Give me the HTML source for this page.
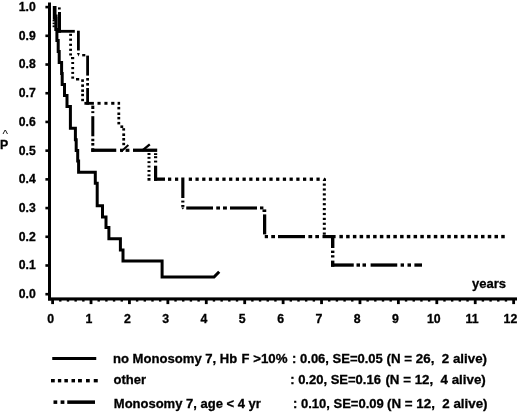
<!DOCTYPE html>
<html lang="en">
<head>
<meta charset="utf-8">
<title>Kaplan-Meier survival curves</title>
<style>
html,body{margin:0;padding:0;background:#fff;}
body{width:520px;height:413px;overflow:hidden;}
svg{display:block;}
svg text{font-family:"Liberation Sans",Arial,Helvetica,sans-serif;fill:#000;stroke:#000;stroke-width:0.3px;}
</style>
</head>
<body>
<svg width="520" height="413" viewBox="0 0 520 413" shape-rendering="auto">
<rect x="0" y="0" width="520" height="413" fill="#fff"/>
<g fill="#000" stroke="none">
<rect x="48.00" y="2.50" width="3.00" height="298.00"/>
<rect x="48.00" y="297.40" width="469.00" height="3.10"/>
<rect x="45.40" y="5.80" width="3.10" height="2.60"/>
<rect x="45.40" y="34.51" width="3.10" height="2.60"/>
<rect x="45.40" y="63.22" width="3.10" height="2.60"/>
<rect x="45.40" y="91.93" width="3.10" height="2.60"/>
<rect x="45.40" y="120.64" width="3.10" height="2.60"/>
<rect x="45.40" y="149.35" width="3.10" height="2.60"/>
<rect x="45.40" y="178.06" width="3.10" height="2.60"/>
<rect x="45.40" y="206.77" width="3.10" height="2.60"/>
<rect x="45.40" y="235.48" width="3.10" height="2.60"/>
<rect x="45.40" y="264.19" width="3.10" height="2.60"/>
<rect x="45.40" y="292.90" width="3.10" height="2.60"/>
<rect x="51.20" y="300.00" width="2.80" height="4.10"/>
<rect x="89.62" y="300.00" width="2.80" height="4.10"/>
<rect x="128.04" y="300.00" width="2.80" height="4.10"/>
<rect x="166.46" y="300.00" width="2.80" height="4.10"/>
<rect x="204.88" y="300.00" width="2.80" height="4.10"/>
<rect x="243.30" y="300.00" width="2.80" height="4.10"/>
<rect x="281.72" y="300.00" width="2.80" height="4.10"/>
<rect x="320.14" y="300.00" width="2.80" height="4.10"/>
<rect x="358.56" y="300.00" width="2.80" height="4.10"/>
<rect x="396.98" y="300.00" width="2.80" height="4.10"/>
<rect x="435.40" y="300.00" width="2.80" height="4.10"/>
<rect x="473.82" y="300.00" width="2.80" height="4.10"/>
<rect x="512.24" y="300.00" width="2.80" height="4.10"/>
<rect x="59.08" y="300.00" width="2.40" height="1.60"/>
<rect x="66.77" y="300.00" width="2.40" height="1.60"/>
<rect x="74.45" y="300.00" width="2.40" height="1.60"/>
<rect x="82.14" y="300.00" width="2.40" height="1.60"/>
<rect x="97.50" y="300.00" width="2.40" height="1.60"/>
<rect x="105.19" y="300.00" width="2.40" height="1.60"/>
<rect x="112.87" y="300.00" width="2.40" height="1.60"/>
<rect x="120.56" y="300.00" width="2.40" height="1.60"/>
<rect x="135.92" y="300.00" width="2.40" height="1.60"/>
<rect x="143.61" y="300.00" width="2.40" height="1.60"/>
<rect x="151.29" y="300.00" width="2.40" height="1.60"/>
<rect x="158.98" y="300.00" width="2.40" height="1.60"/>
<rect x="174.34" y="300.00" width="2.40" height="1.60"/>
<rect x="182.03" y="300.00" width="2.40" height="1.60"/>
<rect x="189.71" y="300.00" width="2.40" height="1.60"/>
<rect x="197.40" y="300.00" width="2.40" height="1.60"/>
<rect x="212.76" y="300.00" width="2.40" height="1.60"/>
<rect x="220.45" y="300.00" width="2.40" height="1.60"/>
<rect x="228.13" y="300.00" width="2.40" height="1.60"/>
<rect x="235.82" y="300.00" width="2.40" height="1.60"/>
<rect x="251.18" y="300.00" width="2.40" height="1.60"/>
<rect x="258.87" y="300.00" width="2.40" height="1.60"/>
<rect x="266.55" y="300.00" width="2.40" height="1.60"/>
<rect x="274.24" y="300.00" width="2.40" height="1.60"/>
<rect x="289.60" y="300.00" width="2.40" height="1.60"/>
<rect x="297.29" y="300.00" width="2.40" height="1.60"/>
<rect x="304.97" y="300.00" width="2.40" height="1.60"/>
<rect x="312.66" y="300.00" width="2.40" height="1.60"/>
<rect x="328.02" y="300.00" width="2.40" height="1.60"/>
<rect x="335.71" y="300.00" width="2.40" height="1.60"/>
<rect x="343.39" y="300.00" width="2.40" height="1.60"/>
<rect x="351.08" y="300.00" width="2.40" height="1.60"/>
<rect x="366.44" y="300.00" width="2.40" height="1.60"/>
<rect x="374.13" y="300.00" width="2.40" height="1.60"/>
<rect x="381.81" y="300.00" width="2.40" height="1.60"/>
<rect x="389.50" y="300.00" width="2.40" height="1.60"/>
<rect x="404.86" y="300.00" width="2.40" height="1.60"/>
<rect x="412.55" y="300.00" width="2.40" height="1.60"/>
<rect x="420.23" y="300.00" width="2.40" height="1.60"/>
<rect x="427.92" y="300.00" width="2.40" height="1.60"/>
<rect x="443.28" y="300.00" width="2.40" height="1.60"/>
<rect x="450.97" y="300.00" width="2.40" height="1.60"/>
<rect x="458.65" y="300.00" width="2.40" height="1.60"/>
<rect x="466.34" y="300.00" width="2.40" height="1.60"/>
<rect x="481.70" y="300.00" width="2.40" height="1.60"/>
<rect x="489.39" y="300.00" width="2.40" height="1.60"/>
<rect x="497.07" y="300.00" width="2.40" height="1.60"/>
<rect x="504.76" y="300.00" width="2.40" height="1.60"/>
<rect x="52.80" y="6.00" width="2.20" height="13.50"/>
<rect x="55.50" y="14.50" width="2.05" height="16.00"/>
<path d="M55.00,6.00 L55.00,18.50 L55.80,18.50 L55.80,29.50 L56.90,29.50 L56.90,40.50 L58.20,40.50 L58.20,51.60 L59.20,51.60 L59.20,62.60 L61.60,62.60 L61.60,73.60 L62.20,73.60 L62.20,84.60 L64.50,84.60 L64.50,95.60 L67.00,95.60 L67.00,106.40 L70.40,106.40 L70.40,128.20 L75.40,128.20 L75.40,139.70 L76.20,139.70 L76.20,150.40 L77.70,150.40 L77.70,161.00 L78.60,161.00 L78.60,172.30 L95.30,172.30 L95.30,183.30 L97.20,183.30 L97.20,205.70 L102.50,205.70 L102.50,216.90 L106.00,216.90 L106.00,227.60 L108.90,227.60 L108.90,238.80 L120.40,238.80 L120.40,250.00 L123.00,250.00 L123.00,261.00 L162.10,261.00 L162.10,277.10 L214.00,277.10 L219.20,271.70" fill="none" stroke="#000" stroke-width="3" stroke-linejoin="miter" stroke-linecap="butt"/>
<rect x="52.60" y="19.80" width="2.20" height="1.60"/>
<rect x="52.60" y="22.60" width="2.20" height="1.60"/>
<rect x="52.60" y="25.40" width="2.20" height="1.80"/>
<rect x="69.20" y="33.80" width="2.80" height="2.10"/>
<rect x="69.20" y="38.60" width="2.80" height="2.20"/>
<rect x="69.20" y="43.70" width="2.80" height="2.20"/>
<rect x="69.20" y="48.70" width="2.80" height="2.20"/>
<rect x="69.20" y="53.40" width="2.80" height="2.10"/>
<rect x="71.00" y="57.00" width="3.20" height="2.20"/>
<rect x="71.30" y="62.00" width="2.80" height="2.00"/>
<rect x="71.30" y="67.00" width="2.80" height="2.20"/>
<rect x="71.30" y="71.90" width="2.80" height="2.00"/>
<rect x="71.30" y="76.50" width="2.80" height="2.20"/>
<rect x="76.00" y="78.00" width="3.20" height="2.50"/>
<rect x="81.20" y="79.30" width="2.70" height="2.60"/>
<rect x="81.20" y="84.40" width="2.80" height="2.50"/>
<rect x="81.20" y="89.40" width="2.80" height="2.50"/>
<rect x="81.20" y="93.80" width="2.80" height="2.40"/>
<rect x="81.20" y="98.80" width="2.80" height="2.40"/>
<rect x="97.50" y="101.85" width="3.10" height="2.90"/>
<rect x="104.40" y="101.85" width="3.10" height="2.90"/>
<rect x="111.20" y="101.85" width="3.20" height="2.90"/>
<rect x="117.60" y="101.85" width="2.50" height="2.90"/>
<rect x="117.40" y="106.90" width="2.80" height="2.50"/>
<rect x="117.40" y="112.50" width="2.80" height="2.50"/>
<rect x="117.40" y="116.90" width="2.80" height="2.50"/>
<rect x="117.40" y="121.90" width="2.80" height="2.50"/>
<rect x="120.40" y="125.40" width="2.80" height="2.60"/>
<rect x="122.30" y="128.20" width="2.80" height="2.40"/>
<rect x="122.30" y="133.40" width="2.80" height="2.60"/>
<rect x="122.30" y="138.00" width="2.80" height="2.60"/>
<rect x="122.30" y="142.80" width="2.80" height="2.40"/>
<rect x="120.00" y="148.70" width="3.00" height="3.20"/>
<rect x="125.60" y="148.70" width="3.80" height="3.20"/>
<rect x="147.50" y="153.00" width="3.00" height="2.00"/>
<rect x="147.50" y="156.90" width="3.00" height="1.90"/>
<rect x="147.50" y="161.20" width="3.00" height="1.90"/>
<rect x="147.50" y="165.60" width="3.00" height="1.90"/>
<rect x="147.50" y="170.00" width="3.00" height="1.90"/>
<rect x="147.50" y="174.40" width="3.00" height="1.90"/>
<rect x="147.50" y="178.00" width="3.00" height="2.70"/>
<rect x="168.00" y="177.55" width="3.25" height="3.30"/>
<rect x="175.00" y="177.55" width="3.20" height="3.30"/>
<rect x="188.75" y="177.55" width="3.25" height="3.30"/>
<rect x="195.47" y="177.55" width="3.25" height="3.30"/>
<rect x="202.19" y="177.55" width="3.25" height="3.30"/>
<rect x="208.91" y="177.55" width="3.25" height="3.30"/>
<rect x="215.63" y="177.55" width="3.25" height="3.30"/>
<rect x="222.35" y="177.55" width="3.25" height="3.30"/>
<rect x="229.07" y="177.55" width="3.25" height="3.30"/>
<rect x="235.79" y="177.55" width="3.25" height="3.30"/>
<rect x="242.51" y="177.55" width="3.25" height="3.30"/>
<rect x="249.23" y="177.55" width="3.25" height="3.30"/>
<rect x="255.95" y="177.55" width="3.25" height="3.30"/>
<rect x="262.67" y="177.55" width="3.25" height="3.30"/>
<rect x="269.39" y="177.55" width="3.25" height="3.30"/>
<rect x="276.11" y="177.55" width="3.25" height="3.30"/>
<rect x="282.83" y="177.55" width="3.25" height="3.30"/>
<rect x="289.55" y="177.55" width="3.25" height="3.30"/>
<rect x="296.27" y="177.55" width="3.25" height="3.30"/>
<rect x="302.99" y="177.55" width="3.25" height="3.30"/>
<rect x="309.71" y="177.55" width="3.25" height="3.30"/>
<rect x="316.43" y="177.55" width="3.25" height="3.30"/>
<path d="M322.6,180.9 L326,180.9 L326,178.8 L324.3,177.4 Z"/>
<rect x="322.80" y="183.50" width="3.00" height="2.20"/>
<rect x="322.80" y="188.40" width="3.00" height="2.20"/>
<rect x="322.80" y="193.30" width="3.00" height="2.20"/>
<rect x="322.80" y="198.20" width="3.00" height="2.20"/>
<rect x="322.80" y="203.10" width="3.00" height="2.20"/>
<rect x="322.80" y="208.00" width="3.00" height="2.20"/>
<rect x="322.80" y="212.90" width="3.00" height="2.20"/>
<rect x="322.80" y="217.80" width="3.00" height="2.20"/>
<rect x="322.80" y="222.70" width="3.00" height="2.20"/>
<rect x="322.80" y="227.60" width="3.00" height="2.20"/>
<rect x="322.80" y="232.50" width="3.00" height="2.20"/>
<rect x="339.40" y="234.90" width="3.50" height="3.40"/>
<rect x="346.14" y="234.90" width="3.50" height="3.40"/>
<rect x="352.89" y="234.90" width="3.50" height="3.40"/>
<rect x="359.63" y="234.90" width="3.50" height="3.40"/>
<rect x="366.37" y="234.90" width="3.50" height="3.40"/>
<rect x="373.11" y="234.90" width="3.50" height="3.40"/>
<rect x="379.86" y="234.90" width="3.50" height="3.40"/>
<rect x="386.60" y="234.90" width="3.50" height="3.40"/>
<rect x="393.34" y="234.90" width="3.50" height="3.40"/>
<rect x="400.09" y="234.90" width="3.50" height="3.40"/>
<rect x="406.83" y="234.90" width="3.50" height="3.40"/>
<rect x="413.57" y="234.90" width="3.50" height="3.40"/>
<rect x="420.32" y="234.90" width="3.50" height="3.40"/>
<rect x="427.06" y="234.90" width="3.50" height="3.40"/>
<rect x="433.80" y="234.90" width="3.50" height="3.40"/>
<rect x="440.54" y="234.90" width="3.50" height="3.40"/>
<rect x="447.29" y="234.90" width="3.50" height="3.40"/>
<rect x="454.03" y="234.90" width="3.50" height="3.40"/>
<rect x="460.77" y="234.90" width="3.50" height="3.40"/>
<rect x="467.52" y="234.90" width="3.50" height="3.40"/>
<rect x="474.26" y="234.90" width="3.50" height="3.40"/>
<rect x="481.00" y="234.90" width="3.50" height="3.40"/>
<rect x="487.75" y="234.90" width="3.50" height="3.40"/>
<rect x="494.49" y="234.90" width="3.50" height="3.40"/>
<rect x="501.23" y="234.90" width="3.50" height="3.40"/>
<rect x="58.00" y="7.40" width="2.70" height="2.10"/>
<rect x="58.00" y="12.00" width="3.00" height="20.70"/>
<rect x="58.00" y="29.90" width="16.80" height="2.80"/>
<rect x="77.00" y="30.70" width="2.80" height="19.80"/>
<path d="M76.9,53 L79.8,53 L78.6,56.6 Z"/>
<rect x="82.20" y="54.00" width="3.10" height="2.40"/>
<rect x="86.20" y="55.60" width="2.80" height="20.00"/>
<rect x="86.20" y="78.00" width="2.80" height="2.60"/>
<rect x="86.20" y="83.00" width="2.80" height="2.60"/>
<rect x="86.20" y="88.00" width="2.80" height="16.70"/>
<rect x="84.40" y="101.90" width="9.50" height="2.85"/>
<rect x="91.30" y="105.60" width="3.00" height="3.40"/>
<rect x="91.30" y="111.20" width="3.00" height="1.90"/>
<rect x="91.30" y="116.20" width="3.00" height="20.10"/>
<rect x="91.30" y="138.75" width="3.00" height="2.50"/>
<rect x="91.30" y="143.00" width="3.00" height="2.60"/>
<rect x="91.30" y="148.20" width="3.00" height="3.70"/>
<rect x="91.30" y="148.60" width="24.95" height="3.30"/>
<line x1="121.20" y1="151.60" x2="128.40" y2="145.00" stroke="#000" stroke-width="2.0" stroke-linecap="butt"/>
<rect x="133.00" y="148.60" width="24.20" height="3.30"/>
<line x1="142.20" y1="150.60" x2="149.80" y2="144.40" stroke="#000" stroke-width="2.4" stroke-linecap="butt"/>
<rect x="154.00" y="153.20" width="3.20" height="1.80"/>
<rect x="154.00" y="156.20" width="3.20" height="2.00"/>
<rect x="154.00" y="160.60" width="3.20" height="1.90"/>
<rect x="154.00" y="165.70" width="3.20" height="15.10"/>
<rect x="154.00" y="177.50" width="11.00" height="3.30"/>
<rect x="181.25" y="177.50" width="3.15" height="20.50"/>
<rect x="181.25" y="200.60" width="3.15" height="1.90"/>
<rect x="181.25" y="205.00" width="3.15" height="1.90"/>
<path d="M181.2,207.6 L184.4,207.6 L182.8,209.6 Z"/>
<rect x="186.25" y="206.45" width="26.75" height="3.10"/>
<rect x="216.25" y="206.45" width="3.75" height="3.10"/>
<rect x="223.00" y="206.45" width="3.90" height="3.10"/>
<rect x="230.00" y="206.45" width="27.00" height="3.10"/>
<rect x="260.00" y="206.45" width="3.40" height="2.95"/>
<rect x="262.50" y="209.40" width="3.75" height="2.60"/>
<rect x="263.00" y="214.40" width="3.25" height="20.00"/>
<rect x="264.75" y="235.00" width="3.25" height="3.20"/>
<rect x="271.25" y="235.00" width="3.75" height="3.20"/>
<rect x="278.00" y="235.00" width="27.00" height="3.20"/>
<rect x="308.40" y="235.00" width="3.80" height="3.20"/>
<rect x="315.30" y="235.00" width="3.70" height="3.20"/>
<rect x="322.50" y="235.00" width="13.10" height="3.20"/>
<rect x="331.00" y="236.60" width="3.40" height="11.40"/>
<rect x="331.00" y="250.60" width="3.40" height="2.40"/>
<rect x="331.00" y="255.25" width="3.40" height="2.25"/>
<rect x="331.00" y="260.60" width="3.40" height="6.10"/>
<rect x="331.00" y="263.40" width="22.75" height="3.30"/>
<rect x="356.50" y="263.40" width="3.50" height="3.30"/>
<rect x="362.50" y="263.40" width="3.50" height="3.30"/>
<rect x="370.60" y="263.40" width="26.65" height="3.30"/>
<rect x="400.60" y="263.40" width="3.40" height="3.30"/>
<rect x="407.50" y="263.40" width="3.50" height="3.30"/>
<rect x="414.40" y="263.40" width="7.60" height="3.30"/>
<rect x="52.25" y="357.00" width="44.00" height="3.00"/>
<rect x="51.00" y="379.00" width="3.75" height="3.40"/>
<rect x="57.90" y="379.00" width="3.35" height="3.40"/>
<rect x="64.40" y="379.00" width="3.50" height="3.40"/>
<rect x="71.50" y="379.00" width="3.50" height="3.40"/>
<rect x="78.00" y="379.00" width="3.90" height="3.40"/>
<rect x="86.00" y="379.00" width="3.75" height="3.40"/>
<rect x="93.75" y="379.00" width="4.00" height="3.40"/>
<rect x="53.50" y="400.40" width="3.75" height="3.50"/>
<rect x="60.60" y="400.40" width="3.80" height="3.50"/>
<rect x="67.25" y="400.40" width="27.75" height="3.50"/>
</g>
<g>
<text x="18.70" y="10.90" text-anchor="start" font-size="12.3" font-weight="bold" textLength="17.0" lengthAdjust="spacingAndGlyphs" xml:space="preserve">1.0</text>
<text x="18.70" y="39.63" text-anchor="start" font-size="12.3" font-weight="bold" textLength="17.0" lengthAdjust="spacingAndGlyphs" xml:space="preserve">0.9</text>
<text x="18.70" y="68.36" text-anchor="start" font-size="12.3" font-weight="bold" textLength="17.0" lengthAdjust="spacingAndGlyphs" xml:space="preserve">0.8</text>
<text x="18.70" y="97.09" text-anchor="start" font-size="12.3" font-weight="bold" textLength="17.0" lengthAdjust="spacingAndGlyphs" xml:space="preserve">0.7</text>
<text x="18.70" y="125.82" text-anchor="start" font-size="12.3" font-weight="bold" textLength="17.0" lengthAdjust="spacingAndGlyphs" xml:space="preserve">0.6</text>
<text x="18.70" y="154.55" text-anchor="start" font-size="12.3" font-weight="bold" textLength="17.0" lengthAdjust="spacingAndGlyphs" xml:space="preserve">0.5</text>
<text x="18.70" y="183.28" text-anchor="start" font-size="12.3" font-weight="bold" textLength="17.0" lengthAdjust="spacingAndGlyphs" xml:space="preserve">0.4</text>
<text x="18.70" y="212.01" text-anchor="start" font-size="12.3" font-weight="bold" textLength="17.0" lengthAdjust="spacingAndGlyphs" xml:space="preserve">0.3</text>
<text x="18.70" y="240.74" text-anchor="start" font-size="12.3" font-weight="bold" textLength="17.0" lengthAdjust="spacingAndGlyphs" xml:space="preserve">0.2</text>
<text x="18.70" y="269.47" text-anchor="start" font-size="12.3" font-weight="bold" textLength="17.0" lengthAdjust="spacingAndGlyphs" xml:space="preserve">0.1</text>
<text x="18.70" y="298.20" text-anchor="start" font-size="12.3" font-weight="bold" textLength="17.0" lengthAdjust="spacingAndGlyphs" xml:space="preserve">0.0</text>
<text x="50.70" y="323.20" text-anchor="middle" font-size="12.3" font-weight="bold" xml:space="preserve">0</text>
<text x="89.01" y="323.20" text-anchor="middle" font-size="12.3" font-weight="bold" xml:space="preserve">1</text>
<text x="127.32" y="323.20" text-anchor="middle" font-size="12.3" font-weight="bold" xml:space="preserve">2</text>
<text x="165.63" y="323.20" text-anchor="middle" font-size="12.3" font-weight="bold" xml:space="preserve">3</text>
<text x="203.94" y="323.20" text-anchor="middle" font-size="12.3" font-weight="bold" xml:space="preserve">4</text>
<text x="242.25" y="323.20" text-anchor="middle" font-size="12.3" font-weight="bold" xml:space="preserve">5</text>
<text x="280.56" y="323.20" text-anchor="middle" font-size="12.3" font-weight="bold" xml:space="preserve">6</text>
<text x="318.87" y="323.20" text-anchor="middle" font-size="12.3" font-weight="bold" xml:space="preserve">7</text>
<text x="357.18" y="323.20" text-anchor="middle" font-size="12.3" font-weight="bold" xml:space="preserve">8</text>
<text x="395.49" y="323.20" text-anchor="middle" font-size="12.3" font-weight="bold" xml:space="preserve">9</text>
<text x="433.80" y="323.20" text-anchor="middle" font-size="12.3" font-weight="bold" xml:space="preserve">10</text>
<text x="472.11" y="323.20" text-anchor="middle" font-size="12.3" font-weight="bold" xml:space="preserve">11</text>
<text x="510.42" y="323.20" text-anchor="middle" font-size="12.3" font-weight="bold" xml:space="preserve">12</text>
<text x="0.00" y="148.80" text-anchor="start" font-size="12.3" font-weight="bold" xml:space="preserve">P</text>
<text x="2.60" y="138.30" text-anchor="start" font-size="10.5" font-weight="normal" style="stroke:none" textLength="5.5" lengthAdjust="spacingAndGlyphs" xml:space="preserve">^</text>
<text x="472.00" y="288.00" text-anchor="start" font-size="13" font-weight="bold" xml:space="preserve">years</text>
<text y="363.30" font-size="13" font-weight="bold" xml:space="preserve"><tspan x="112.90" textLength="107.0" lengthAdjust="spacingAndGlyphs">no Monosomy 7, </tspan><tspan x="219.80">Hb </tspan><tspan x="241.60">F </tspan><tspan x="253.20" textLength="34.3" lengthAdjust="spacingAndGlyphs">&gt;10%</tspan><tspan x="288.50"> : 0.06, SE=0.05 </tspan><tspan x="386.60" textLength="100.4" lengthAdjust="spacingAndGlyphs">(N = 26,  2 alive)</tspan></text>
<text y="384.20" font-size="13" font-weight="bold" xml:space="preserve"><tspan x="113.50">other </tspan><tspan x="290.20">: 0.20, SE=0.16 </tspan><tspan x="385.40" textLength="100.4" lengthAdjust="spacingAndGlyphs">(N = 12,  4 alive)</tspan></text>
<text y="408.30" font-size="13" font-weight="bold" xml:space="preserve"><tspan x="113.80">Monosomy 7, age &lt; 4 yr </tspan><tspan x="293.00">: 0.10, SE=0.09 </tspan><tspan x="387.10" textLength="100.4" lengthAdjust="spacingAndGlyphs">(N = 12,  2 alive)</tspan></text>
</g>
</svg>
</body>
</html>
